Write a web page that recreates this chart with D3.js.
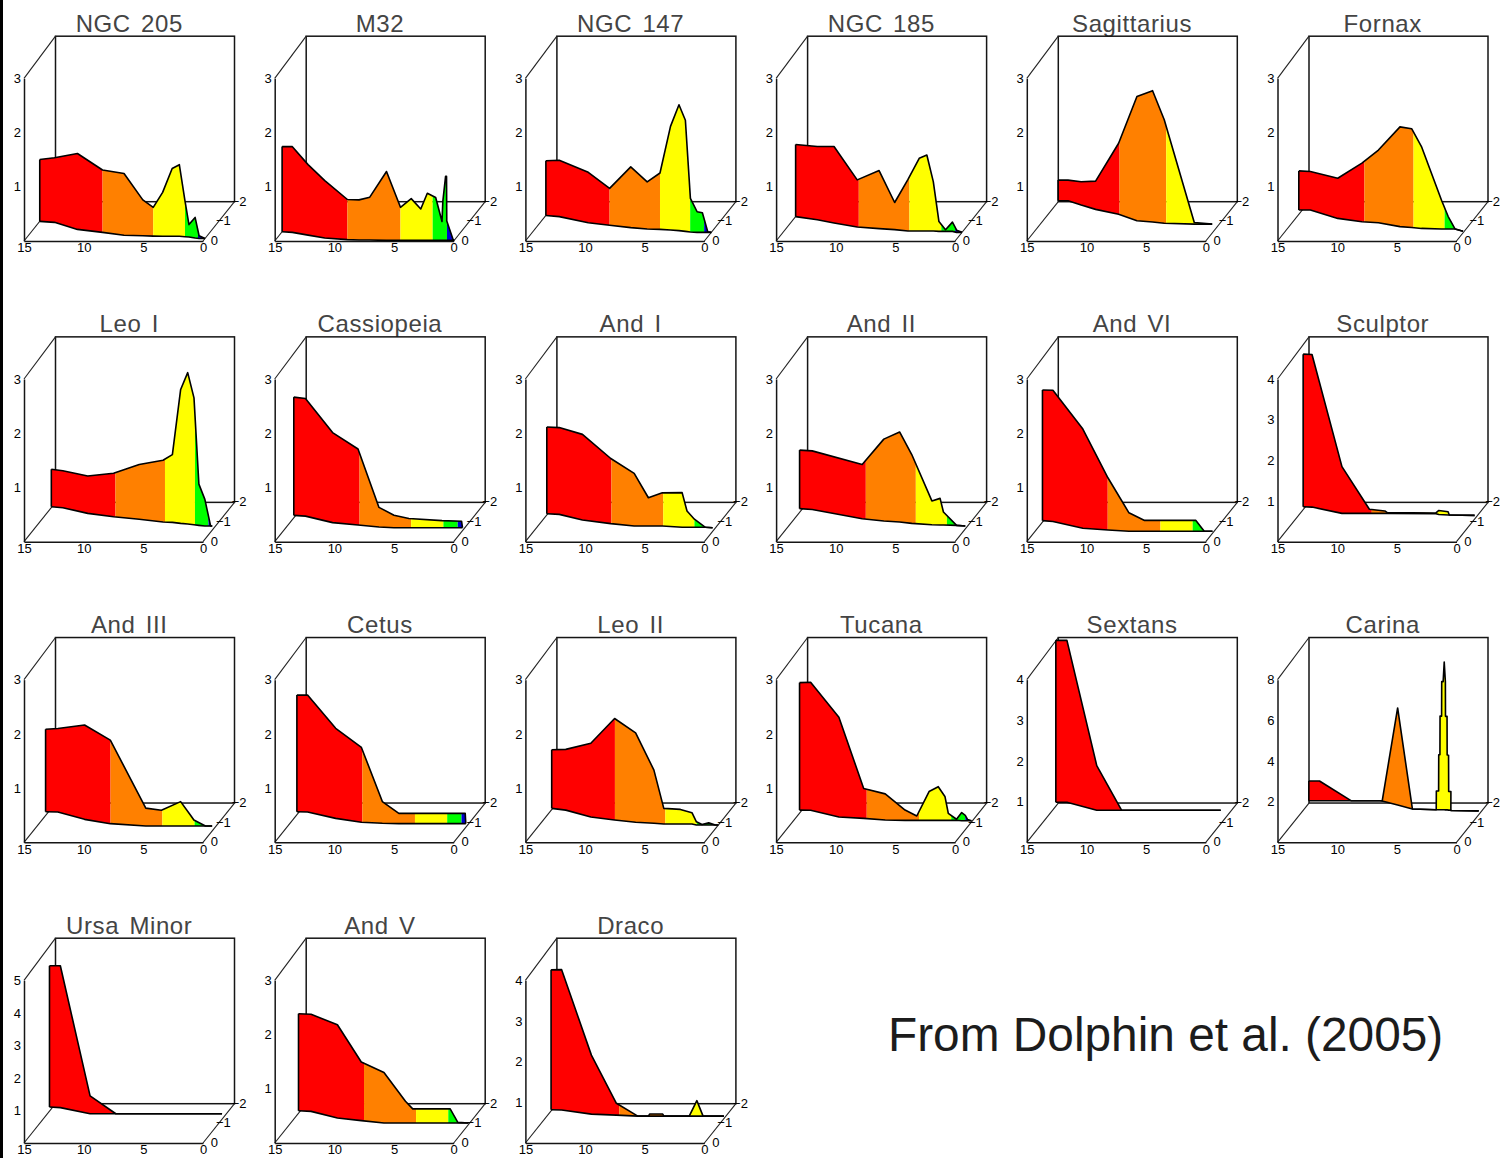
<!DOCTYPE html>
<html>
<head>
<meta charset="utf-8">
<script src="https://cdn.jsdelivr.net/npm/d3@7"></script>
<style>
  html, body { margin: 0; padding: 0; background: #fff; }
  #strip { position: absolute; left: 0; top: 0; width: 3px; height: 1158px; background: #000; }
  svg { display: block; }
  text { font-family: "Liberation Sans", Arial, sans-serif; }
  .title { font-size: 24px; fill: #444; text-anchor: middle; word-spacing: 3px; letter-spacing: 0.6px; }
  .note { font-size: 47.8px; fill: #1c1c1c; }
  .tick text, .z { font-size: 13px; fill: #000; }
  .tick line { stroke: none; }
  .frame { fill: none; stroke: #151515; stroke-width: 1.5; }
  .domain { stroke: #151515; stroke-width: 1.5; }
  .diag { stroke: #222; stroke-width: 1.1; }
  .edge { fill: none; stroke: #000; stroke-width: 1.6; stroke-linejoin: round; }
</style>
</head>
<body>
<div id="strip"></div>
<div id="chart"></div>
<script>
// star formation histories: age (Gyr), [Fe/H], SFR
const ngc205Age = [15, 13.7, 11.3, 9, 7, 5.4, 4.5, 3.7, 2.9, 2.3, 1.8, 1.44, 0.86, 0.5, 0];
const ngc205Feh = [-1, -0.95, -0.59, -0.44, -0.29, -0.27, -0.25, -0.24, -0.24, -0.24, -0.22, -0.2, -0.15, -0.13, -0.13];
const ngc205Sfr = [1.14, 1.19, 1.4, 1.15, 1.14, 0.66, 0.53, 0.81, 1.25, 1.32, 0.66, 0.23, 0.38, 0.05, 0];

const m32Age = [15, 14.1, 12.6, 11, 9, 8, 7.1, 5.67, 4.5, 3.6, 2.8, 2.25, 1.55, 1.02, 0.95, 0.72, 0.64, 0.62, 0.1, 0];
const m32Feh = [-0.47, -0.44, -0.3, -0.15, -0.07, -0.05, -0.05, -0.03, -0.03, -0.03, -0.03, -0.03, -0.03, -0.03, -0.03, -0.03, -0.03, -0.03, -0.03, -0.03];
const m32Sfr = [1.57, 1.58, 1.3, 1.06, 0.74, 0.74, 0.79, 1.27, 0.61, 0.77, 0.58, 0.87, 0.79, 0.35, 0.72, 1.18, 1.18, 0.36, 0.02, 0];

const ngc147Age = [15, 13.8, 10.96, 9, 7.07, 5.6, 4.5, 3.58, 2.83, 2.24, 1.78, 1.19, 0.75, 0.3, 0];
const ngc147Feh = [-1.3, -1.24, -0.93, -0.8, -0.68, -0.61, -0.59, -0.56, -0.53, -0.49, -0.46, -0.44, -0.44, -0.44, -0.44];
const ngc147Sfr = [1.01, 1.04, 0.93, 0.68, 1.12, 0.87, 1.04, 1.91, 2.32, 2.05, 0.62, 0.38, 0.36, 0.01, 0];

const ngc185Age = [15, 12.97, 11.36, 9.14, 7.2, 5.83, 4.62, 3.68, 3.04, 2.5, 2, 1.45, 0.87, 0.45, 0];
const ngc185Feh = [-1.24, -1.08, -0.92, -0.71, -0.63, -0.58, -0.51, -0.51, -0.51, -0.51, -0.49, -0.49, -0.49, -0.44, -0.44];
const ngc185Sfr = [1.33, 1.35, 1.41, 0.87, 1.07, 0.5, 0.95, 1.34, 1.4, 0.91, 0.18, 0.03, 0.17, 0.04, 0];

const sagAge = [15.08, 14.25, 12.86, 11.36, 9.1, 7.13, 5.74, 4.67, 2.1, 0.6];
const sagFeh = [-2.05, -2.05, -1.83, -1.61, -1.36, -1.03, -0.97, -0.9, -0.86, -0.86];
const sagSfr = [0.38, 0.38, 0.43, 0.52, 1.31, 2.29, 2.42, 1.91, 0.03, 0];

const fornaxAge = [15.3, 14.33, 11.47, 9.22, 7.77, 5.7, 4.67, 3.78, 2.06, 1.5, 0.92, 0.11];
const fornaxFeh = [-1.58, -1.58, -1.15, -0.98, -0.93, -0.73, -0.69, -0.64, -0.61, -0.61, -0.61, -0.5];
const fornaxSfr = [0.72, 0.71, 0.74, 1.08, 1.34, 1.84, 1.82, 1.51, 0.53, 0.23, 0, 0];

const leo1Age = [15.06, 14.03, 11.56, 9.17, 6.85, 4.67, 3.86, 3.1, 2.47, 1.89, 1.44, 0.9, 0.42, 0.28];
const leo1Feh = [-1.78, -1.73, -1.44, -1.27, -1.14, -1, -0.98, -0.93, -0.9, -0.86, -0.83, -0.8, -0.8, -0.8];
const leo1Sfr = [0.69, 0.68, 0.69, 0.8, 1.01, 1.14, 1.25, 2.47, 2.79, 2.34, 0.76, 0.49, 0, 0];

const cassAge = [15.17, 14.14, 11.43, 9.14, 7.25, 5.94, 4.69, 1.92, 0.28, 0.2];
const cassFeh = [-1.34, -1.3, -0.97, -0.85, -0.75, -0.71, -0.71, -0.71, -0.71, -0.71];
const cassSfr = [2.18, 2.17, 1.66, 1.4, 0.36, 0.23, 0.17, 0.13, 0.12, 0];

const and1Age = [15.08, 14, 11.67, 9.06, 6.94, 5.75, 4.58, 2.83, 2.42, 1.8, 0.88, 0.25];
const and1Feh = [-1.42, -1.39, -1.1, -0.92, -0.8, -0.8, -0.8, -0.73, -0.73, -0.73, -0.73, -0.71];
const and1Sfr = [1.6, 1.6, 1.58, 1.2, 0.97, 0.52, 0.61, 0.64, 0.3, 0.15, 0, 0];

const and2Age = [15.25, 14.14, 9.33, 7.36, 5.97, 4.86, 3.08, 2.38, 2.1, 0.97, 0.2];
const and2Feh = [-1.68, -1.64, -1.17, -1.05, -1, -0.93, -0.86, -0.85, -0.85, -0.83, -0.8];
const and2Sfr = [1.08, 1.08, 1, 1.51, 1.66, 1.27, 0.44, 0.49, 0.24, 0, 0];

const and6Age = [15.1, 14.17, 11.2, 8.97, 7.14, 5.83, 1.53, 0.83, 0.14];
const and6Feh = [-1.07, -1.03, -0.68, -0.59, -0.53, -0.53, -0.53, -0.53, -0.53];
const and6Sfr = [2.41, 2.42, 1.83, 0.96, 0.34, 0.2, 0.2, 0, 0];

const sculptorAge = [15.2, 14.43, 11.5, 9.2, 7.9, 7.7, 3.6, 3.3, 2.5, 2.4, 0.25];
const sculptorFeh = [-1.78, -1.76, -1.44, -1.44, -1.44, -1.44, -1.42, -1.38, -1.36, -1.36, -1.34];
const sculptorSfr = [3.75, 3.75, 1.15, 0.1, 0.06, 0.02, 0.02, 0.1, 0.08, 0, 0];

const and3Age = [15.25, 14.2, 11.47, 9.02, 5.89, 4.58, 2.97, 2.14, 1.86, 0.89, 0.33];
const and3Feh = [-1.56, -1.54, -1.17, -0.95, -0.83, -0.83, -0.83, -0.83, -0.83, -0.83, -0.83];
const and3Sfr = [1.52, 1.54, 1.74, 1.54, 0.33, 0.29, 0.45, 0.2, 0.11, 0, 0];

const cetusAge = [15.2, 14.28, 11.5, 9.08, 7.26, 5.85, 0.29, 0.24];
const cetusFeh = [-1.56, -1.54, -1.22, -1.02, -0.97, -0.95, -0.95, -0.95];
const cetusSfr = [2.15, 2.16, 1.66, 1.38, 0.4, 0.19, 0.19, 0];

const leo2Age = [15.08, 13.78, 11.22, 9.03, 7.11, 5.51, 4.63, 3.24, 2.27, 1.83, 1.36, 0.8, 0.25, 0];
const leo2Feh = [-1.73, -1.64, -1.29, -1.14, -1.02, -0.97, -0.93, -0.93, -0.93, -0.88, -0.88, -0.88, -0.88, -0.88];
const leo2Sfr = [1.08, 1.12, 1.36, 1.87, 1.65, 0.98, 0.29, 0.27, 0.21, 0.06, 0.01, 0.04, 0, 0];

const tucanaAge = [15.2, 14.26, 11.44, 9.27, 7.36, 5.67, 4.69, 3.66, 2.89, 2.33, 2.05, 1.36, 0.9, 0.6, 0.4, 0.08];
const tucanaFeh = [-1.64, -1.63, -1.29, -1.22, -1.14, -1.12, -1.12, -1.12, -1.12, -1.12, -1.12, -1.12, -1.1, -1.1, -1.1, -1.1];
const tucanaSfr = [2.35, 2.36, 1.84, 0.55, 0.48, 0.19, 0.08, 0.53, 0.62, 0.44, 0.13, 0.02, 0.15, 0.1, 0.02, 0];

const sextansAge = [15.26, 14.33, 11.29, 9.2, 0.9];
const sextansFeh = [-2.04, -2.04, -1.63, -1.63, -1.63];
const sextansSfr = [3.98, 3.98, 1.1, 0, 0];

const carinaAge = [15.17, 14.28, 11.64, 9.2, 9, 7.44, 5.94, 3.89, 3.88, 3.69, 3.68, 3.58, 3.57, 3.44, 3.43, 3.31, 3.22, 3.11, 3.1, 2.97, 2.96, 2.83, 2.82, 2.62, 2.61, 0.25];
const carinaFeh = [-2.12, -2.12, -2.12, -2.12, -2.1, -1.9, -1.7, -1.66, -1.66, -1.66, -1.66, -1.66, -1.66, -1.66, -1.66, -1.66, -1.66, -1.65, -1.65, -1.65, -1.65, -1.64, -1.64, -1.63, -1.62, -1.6];
const carinaSfr = [0.97, 0.97, 0, 0, 0, 4.77, 0, 0, 0.92, 0.92, 2.7, 2.7, 4.6, 4.6, 6.3, 6.3, 7.26, 6.3, 4.6, 4.6, 2.7, 2.7, 0.92, 0.92, 0, 0];

const umiAge = [15.28, 14.33, 11.43, 9.27, 0.37];
const umiFeh = [-1.83, -1.8, -1.49, -1.49, -1.49];
const umiSfr = [4.34, 4.36, 0.55, 0, 0];

const and5Age = [15.17, 14.08, 11.42, 9.25, 7.19, 5.39, 4.78, 1.64, 1, 0.11];
const and5Feh = [-1.64, -1.61, -1.27, -1.14, -1.02, -1.02, -1.02, -1.02, -1.02, -1.02];
const and5Sfr = [1.79, 1.79, 1.72, 1.08, 0.93, 0.4, 0.26, 0.26, 0.01, 0];

const dracoAge = [15.08, 14.18, 11.41, 9.25, 7.39, 6.5, 6.4, 5.3, 5.2, 3.08, 2.44, 1.92, 0.17];
const dracoFeh = [-1.69, -1.68, -1.47, -1.42, -1.37, -1.37, -1.37, -1.37, -1.37, -1.37, -1.37, -1.37, -1.37];
const dracoSfr = [3.44, 3.45, 1.45, 0.29, 0, 0, 0.05, 0.05, 0, 0, 0.38, 0, 0];

const names = ["NGC 205", "M32", "NGC 147", "NGC 185", "Sagittarius", "Fornax",
  "Leo I", "Cassiopeia", "And I", "And II", "And VI", "Sculptor",
  "And III", "Cetus", "Leo II", "Tucana", "Sextans", "Carina",
  "Ursa Minor", "And V", "Draco"];
const ages = [ngc205Age, m32Age, ngc147Age, ngc185Age, sagAge, fornaxAge,
  leo1Age, cassAge, and1Age, and2Age, and6Age, sculptorAge,
  and3Age, cetusAge, leo2Age, tucanaAge, sextansAge, carinaAge,
  umiAge, and5Age, dracoAge];
const fehs = [ngc205Feh, m32Feh, ngc147Feh, ngc185Feh, sagFeh, fornaxFeh,
  leo1Feh, cassFeh, and1Feh, and2Feh, and6Feh, sculptorFeh,
  and3Feh, cetusFeh, leo2Feh, tucanaFeh, sextansFeh, carinaFeh,
  umiFeh, and5Feh, dracoFeh];
const sfrs = [ngc205Sfr, m32Sfr, ngc147Sfr, ngc185Sfr, sagSfr, fornaxSfr,
  leo1Sfr, cassSfr, and1Sfr, and2Sfr, and6Sfr, sculptorSfr,
  and3Sfr, cetusSfr, leo2Sfr, tucanaSfr, sextansSfr, carinaSfr,
  umiSfr, and5Sfr, dracoSfr];
const yMaxes = [3, 3, 3, 3, 3, 3, 3, 3, 3, 3, 3, 4, 3, 3, 3, 3, 4, 8, 5, 3, 4];

const ageTicks = [15, 10, 5, 0];
const fehTicks = [0, -1, -2];
const bandEdges = [99, 9, 4.5, 1.8, 0.6, -1];
const bandColors = ["#ff0000", "#ff8000", "#ffff00", "#00ff00", "#0000d0"];

const width = 1501, height = 1158;
const plotW = 179, plotH = 162.7, wallH = 165.5, depthW = 31.5, depthH = 39.3;

const svg = d3.select("#chart").append("svg")
  .attr("width", width)
  .attr("height", height);

const colX = d3.scaleLinear().domain([0, 5]).range([24, 1277.5]);
const rowY = d3.scaleLinear().domain([0, 3]).range([241, 1143]);

const x = d3.scaleLinear().domain([15, 0]).range([0, plotW]);
const zx = d3.scaleLinear().domain([0, -2]).range([0, depthW]);
const zy = d3.scaleLinear().domain([0, -2]).range([0, -depthH]);

const fmtFeh = d => d === 0 ? "0" : "\u2212" + Math.abs(d);

names.forEach((name, i) => {
  const age = ages[i], feh = fehs[i], sfr = sfrs[i];
  const y = d3.scaleLinear().domain([0, yMaxes[i]]).range([0, -plotH]);

  // piecewise lookups so the colour bands can be cut at any age
  const fehAt = d3.scaleLinear().domain(age).range(feh);
  const sfrAt = d3.scaleLinear().domain(age).range(sfr);
  const px = a => x(a) + zx(fehAt(a));
  const base = a => zy(fehAt(a));
  const top = a => base(a) + y(sfrAt(a));

  const g = svg.append("g")
    .attr("transform", `translate(${colX(i % 6)},${rowY(Math.floor(i / 6))})`);

  g.append("text")
    .attr("class", "title")
    .attr("x", (plotW + depthW) / 2)
    .attr("y", -plotH - depthH - 7.5)
    .text(name);

  // back wall and the corner edges running to it
  g.append("rect")
    .attr("class", "frame")
    .attr("x", zx(-2))
    .attr("y", zy(-2) - wallH)
    .attr("width", plotW)
    .attr("height", wallH);

  g.append("line").attr("class", "diag")
    .attr("x1", 0).attr("y1", 0)
    .attr("x2", zx(-2)).attr("y2", zy(-2));
  g.append("line").attr("class", "diag")
    .attr("x1", plotW).attr("y1", 0)
    .attr("x2", plotW + zx(-2)).attr("y2", zy(-2));
  g.append("line").attr("class", "diag")
    .attr("x1", 0).attr("y1", -plotH)
    .attr("x2", zx(-2)).attr("y2", zy(-2) - wallH);

  g.append("g")
    .call(d3.axisBottom(x).tickValues(ageTicks).tickSize(0).tickPadding(2));

  g.append("g")
    .call(d3.axisLeft(y).ticks(yMaxes[i] === 8 ? 4 : yMaxes[i]).tickFormat(d => d === 0 ? "" : d).tickSize(0).tickPadding(3));

  g.selectAll(".z")
    .data(fehTicks)
    .enter()
    .append("text")
    .attr("class", "z")
    .attr("text-anchor", "end")
    .attr("x", d => plotW + zx(d) + (d === 0 ? 15 : 12))
    .attr("y", d => zy(d) + 4)
    .text(fmtFeh);

  // filled ribbon, one area per age band
  const area = d3.area().x(px).y0(base).y1(top);
  bandColors.forEach((color, b) => {
    const hi = Math.min(bandEdges[b], age[0]);
    const lo = Math.max(bandEdges[b + 1], age[age.length - 1]);
    if (hi <= lo) return;
    const pts = [hi, ...age.filter(a => a < hi && a > lo), lo];
    g.append("path")
      .attr("d", area(pts))
      .attr("fill", color);
  });

  const topLine = d3.line().x(px).y(top);
  const baseLine = d3.line().x(px).y(base);
  g.append("path").attr("class", "edge").attr("d", topLine(age));
  g.append("path").attr("class", "edge").attr("d", baseLine(age));
  g.append("line")
    .attr("class", "edge")
    .attr("x1", px(age[0])).attr("y1", top(age[0]))
    .attr("x2", px(age[0])).attr("y2", base(age[0]));
});

svg.append("text")
  .attr("class", "note")
  .attr("x", 888)
  .attr("y", 1051)
  .text("From Dolphin et al. (2005)");
</script>
</body>
</html>
